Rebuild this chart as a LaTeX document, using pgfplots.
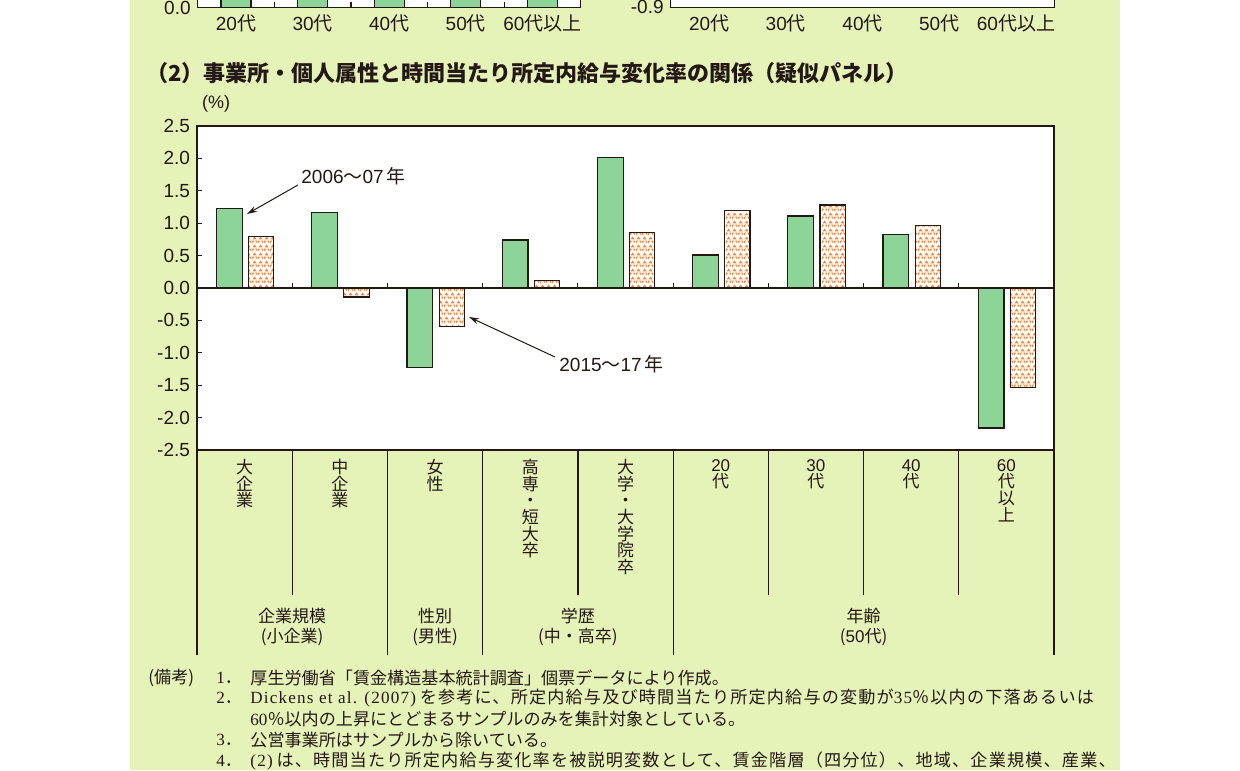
\documentclass[border=0pt]{standalone}
\usepackage{fontspec}
\setmainfont{Liberation Sans}
\newfontfamily\jp{Noto Sans CJK JP}
\newfontfamily\jpw[LetterSpace=7]{Noto Sans CJK JP}
\newfontfamily\lat{Liberation Sans}
\newfontfamily\ser{Liberation Serif}
\newfontfamily\serw[LetterSpace=7]{Liberation Serif}
\usepackage{pgfplots}
\pgfplotsset{compat=1.18}
\usetikzlibrary{patterns,arrows.meta}

\definecolor{bg}{RGB}{229,242,184}
\definecolor{barg}{RGB}{141,212,153}
\definecolor{baro}{RGB}{238,135,62}
\definecolor{ink}{RGB}{35,24,21}

% small orange triangles: a row pointing up, an offset row pointing down
\pgfdeclarepatternformonly{tri}{\pgfqpoint{0pt}{0pt}}{\pgfqpoint{3pt}{4.2pt}}{\pgfqpoint{3pt}{4.2pt}}{%
  \pgfpathmoveto{\pgfqpoint{0.25pt}{0.3pt}}%
  \pgfpathlineto{\pgfqpoint{2.75pt}{0.3pt}}%
  \pgfpathlineto{\pgfqpoint{1.5pt}{1.85pt}}%
  \pgfpathclose
  \pgfpathmoveto{\pgfqpoint{1.75pt}{3.9pt}}%
  \pgfpathlineto{\pgfqpoint{3pt}{3.9pt}}%
  \pgfpathlineto{\pgfqpoint{3pt}{2.35pt}}%
  \pgfpathclose
  \pgfpathmoveto{\pgfqpoint{0pt}{3.9pt}}%
  \pgfpathlineto{\pgfqpoint{1.25pt}{3.9pt}}%
  \pgfpathlineto{\pgfqpoint{0pt}{2.35pt}}%
  \pgfpathclose
  \pgfusepath{fill}}

\pgfplotstableread{
x  y0607 y1517
0  1.23  0.80
1  1.17 -0.14
2 -1.23 -0.60
3  0.74  0.11
4  2.02  0.86
5  0.51  1.20
6  1.11  1.28
7  0.82  0.96
8 -2.16 -1.54
}\maindata

\begin{document}
\begin{tikzpicture}[x=0.5pt,y=-0.5pt,
  txt/.style={inner sep=0pt, text=ink}]
\fill[white] (0,0) rectangle (1240,770);
\fill[bg] (130,0) rectangle (1120,770);

% ---- remnant of the panels above (cut by the page edge)
\begin{axis}[
  at={(98.85pt,-3.75pt)}, anchor=south west,
  width=191.5pt, height=120pt, scale only axis,
  xmin=-0.5, xmax=4.5, ymin=0, ymax=1.5,
  axis background/.style={fill=white},
  axis line style={ink, line width=0.6pt},
  xtick={0,...,4},
  xticklabels={20{\jp 代},30{\jp 代},40{\jp 代},50{\jp 代},60{\jp 代以上}},
  minor xtick={0.5,1.5,2.5,3.5},
  ytick={0}, yticklabels={0.0},
  tick align=inside, major tick length=0pt, minor tick length=2.5pt,
  tick style={ink, line width=0.6pt},
  xtick pos=bottom, ytick pos=left,
  ticklabel style={font=\fontsize{9.5}{11}\selectfont, text=ink},
]
\addplot[ybar, bar width=0.39, bar shift=0, fill=barg, draw=ink, line width=0.6pt]
  coordinates {(0,1.2) (1,1.3) (2,1.1) (3,1.2) (4,1.4)};
\end{axis}

\begin{axis}[
  at={(335.35pt,-3.65pt)}, anchor=south west,
  width=191.8pt, height=120pt, scale only axis,
  xmin=-0.5, xmax=4.5, ymin=-0.9, ymax=0.3,
  axis background/.style={fill=white},
  axis line style={ink, line width=0.6pt},
  xtick={0,...,4},
  xticklabels={20{\jp 代},30{\jp 代},40{\jp 代},50{\jp 代},60{\jp 代以上}},
  ytick={-0.9}, yticklabels={-0.9},
  major tick length=0pt,
  xtick pos=bottom, ytick pos=left,
  ticklabel style={font=\fontsize{9.5}{11}\selectfont, text=ink},
]
\end{axis}

% ---- title
\node[txt, anchor=west, font=\jp\bfseries\fontsize{11}{13}\selectfont] at (146,73)
  {（2）事業所・個人属性と時間当たり所定内給与変化率の関係（疑似パネル）};
\node[txt, font=\fontsize{9}{10}\selectfont] at (216,104) {(\%)};

% ---- main chart
\begin{axis}[
  at={(98.5pt,-225pt)}, anchor=south west,
  width=428.5pt, height=162pt, scale only axis,
  xmin=-0.5, xmax=8.5, ymin=-2.5, ymax=2.5,
  axis background/.style={fill=white},
  axis line style={ink, line width=0.6pt},
  xtick=\empty,
  ytick={-2.5,-2,-1.5,-1,-0.5,0,0.5,1,1.5,2,2.5},
  yticklabels={-2.5,-2.0,-1.5,-1.0,-0.5,0.0,0.5,1.0,1.5,2.0,2.5},
  ytick pos=left, tick align=inside, major tick length=2.5pt,
  tick style={ink, line width=0.6pt},
  yticklabel style={font=\fontsize{9.5}{11}\selectfont, text=ink},
  clip=false,
]
\addplot[ybar, bar width=0.27, bar shift=-0.16, fill=barg, draw=ink, line width=0.6pt]
  table[x=x, y=y0607] {\maindata};
\addplot[ybar, bar width=0.265, bar shift=0.175, preaction={fill=white},
  pattern=tri, pattern color=baro, draw=ink, line width=0.6pt]
  table[x=x, y=y1517] {\maindata};
\draw[ink, line width=0.6pt] (axis cs:-0.5,0) -- (axis cs:8.5,0);
\pgfplotsinvokeforeach{0.5,1.5,2.5,3.5,4.5,5.5,6.5,7.5}{
  \draw[ink, line width=0.6pt] (axis cs:#1,0) -- ++(0pt,2.5pt);
}
\end{axis}

% ---- annotations
\node[txt, anchor=west, font=\fontsize{9.5}{11}\selectfont] at (301,176)
  {2006{\jp ～}07\,{\jp 年}};
\draw[ink, line width=0.5pt, -{Stealth[length=5pt, width=3pt]}] (298,185) -- (247,214);
\node[txt, anchor=west, font=\fontsize{9.5}{11}\selectfont] at (559,364)
  {2015{\jp ～}17\,{\jp 年}};
\draw[ink, line width=0.5pt, -{Stealth[length=5pt, width=3pt]}] (555,357) -- (469,317);

% ---- category table under the axis
\foreach \xx in {197,387.4,482.7,673.1,1054} {
  \draw[ink, line width=0.6pt] (\xx,450) -- (\xx,655);
}
\foreach \xx in {292.2,577.9,768.3,863.5,958.8} {
  \draw[ink, line width=0.6pt] (\xx,450) -- (\xx,595);
}
\begin{scope}[every node/.style={txt, anchor=north, align=center,
    font=\jp\fontsize{8.5}{8.3}\selectfont}]
\node at (244.6,459) {大\\企\\業};
\node at (339.8,459) {中\\企\\業};
\node at (435.0,459) {女\\性};
\node at (530.3,459) {高\\専\\・\\短\\大\\卒};
\node at (625.5,459) {大\\学\\・\\大\\学\\院\\卒};
\node at (720.7,459) {{\lat 20}\\代};
\node at (815.9,459) {{\lat 30}\\代};
\node at (911.2,459) {{\lat 40}\\代};
\node at (1006.4,459) {{\lat 60}\\代\\以\\上};
\end{scope}
\begin{scope}[every node/.style={txt, align=center,
    font=\jp\fontsize{8.5}{10}\selectfont}]
\node at (292.2,627) {企業規模\\(小企業)};
\node at (435.0,627) {性別\\(男性)};
\node at (577.9,627) {学歴\\(中・高卒)};
\node at (863.6,627) {年齢\\({\lat 50}代)};
\end{scope}

% ---- notes
\begin{scope}[every node/.style={txt, anchor=west,
    font=\jp\fontsize{8.55}{10}\selectfont}]
\node at (148,678) {(備考)};
\node at (216,678) {{\ser 1}．};
\node at (250,678) {厚生労働省「賃金構造基本統計調査」個票データにより作成。};
\node at (216,698) {{\ser 2}．};
\node at (250,698) {{\serw Dickens et al. (2007)} {\jpw を参考に、所定内給与及び時間当たり所定内給与の変動が}{\serw 35}{\jpw ％以内の下落あるいは}};
\node at (250,719) {{\ser 60}％以内の上昇にとどまるサンプルのみを集計対象としている。};
\node at (216,740) {{\ser 3}．};
\node at (250,740) {公営事業所はサンプルから除いている。};
\node at (216,761) {{\ser 4}．};
\node at (250,761) {{\serw (2)} {\jpw は、時間当たり所定内給与変化率を被説明変数として、賃金階層（四分位）、地域、企業規模、産業、}};
\end{scope}

\pgfresetboundingbox
\useasboundingbox (0,0) rectangle (1240,770);
\end{tikzpicture}
\end{document}
